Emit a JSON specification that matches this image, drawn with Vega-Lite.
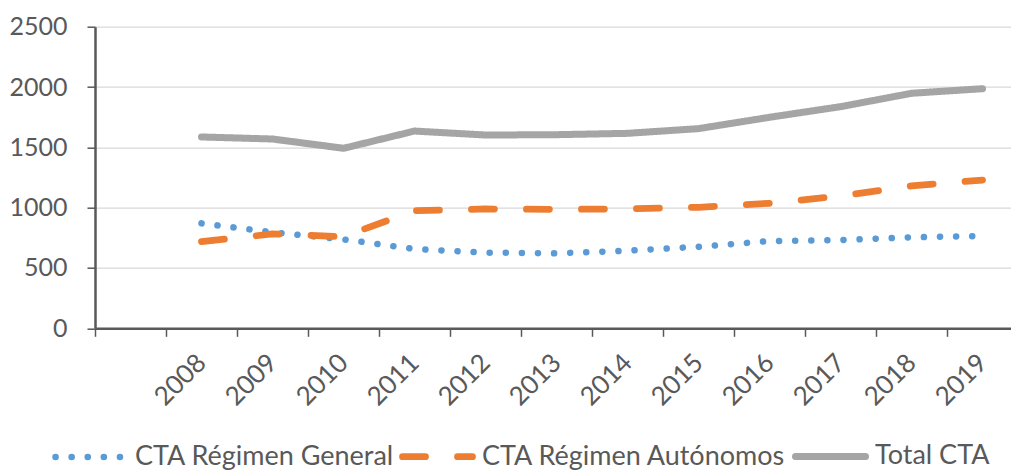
{
  "$schema": "https://vega.github.io/schema/vega-lite/v6.json",
  "width": 923,
  "height": 301.6,
  "autosize": "none",
  "padding": {"left": 95, "top": 26.7, "right": 0, "bottom": 142.7},
  "background": "white",
  "config": {
    "font": "Lato",
    "view": {"stroke": null},
    "axis": {"labelFont": "Lato", "labelFontSize": 25, "labelColor": "#595959", "domainColor": "#595959", "tickColor": "#595959"}
  },
  "data": {
    "values": [
      {"year": "2008", "series": "CTA Régimen General", "value": 870},
      {"year": "2009", "series": "CTA Régimen General", "value": 796},
      {"year": "2010", "series": "CTA Régimen General", "value": 737},
      {"year": "2011", "series": "CTA Régimen General", "value": 657},
      {"year": "2012", "series": "CTA Régimen General", "value": 627},
      {"year": "2013", "series": "CTA Régimen General", "value": 621},
      {"year": "2014", "series": "CTA Régimen General", "value": 643},
      {"year": "2015", "series": "CTA Régimen General", "value": 676},
      {"year": "2016", "series": "CTA Régimen General", "value": 723},
      {"year": "2017", "series": "CTA Régimen General", "value": 732},
      {"year": "2018", "series": "CTA Régimen General", "value": 754},
      {"year": "2019", "series": "CTA Régimen General", "value": 765},
      {"year": "2008", "series": "CTA Régimen Autónomos", "value": 718},
      {"year": "2009", "series": "CTA Régimen Autónomos", "value": 782},
      {"year": "2010", "series": "CTA Régimen Autónomos", "value": 760},
      {"year": "2011", "series": "CTA Régimen Autónomos", "value": 975},
      {"year": "2012", "series": "CTA Régimen Autónomos", "value": 989},
      {"year": "2013", "series": "CTA Régimen Autónomos", "value": 986},
      {"year": "2014", "series": "CTA Régimen Autónomos", "value": 990},
      {"year": "2015", "series": "CTA Régimen Autónomos", "value": 1003},
      {"year": "2016", "series": "CTA Régimen Autónomos", "value": 1036},
      {"year": "2017", "series": "CTA Régimen Autónomos", "value": 1097},
      {"year": "2018", "series": "CTA Régimen Autónomos", "value": 1180},
      {"year": "2019", "series": "CTA Régimen Autónomos", "value": 1229},
      {"year": "2008", "series": "Total CTA", "value": 1586},
      {"year": "2009", "series": "Total CTA", "value": 1569},
      {"year": "2010", "series": "Total CTA", "value": 1492},
      {"year": "2011", "series": "Total CTA", "value": 1635},
      {"year": "2012", "series": "Total CTA", "value": 1602},
      {"year": "2013", "series": "Total CTA", "value": 1605},
      {"year": "2014", "series": "Total CTA", "value": 1616},
      {"year": "2015", "series": "Total CTA", "value": 1655},
      {"year": "2016", "series": "Total CTA", "value": 1749},
      {"year": "2017", "series": "Total CTA", "value": 1837},
      {"year": "2018", "series": "Total CTA", "value": 1948},
      {"year": "2019", "series": "Total CTA", "value": 1986}
    ]
  },
  "mark": {"type": "line", "strokeCap": "round", "strokeJoin": "round"},
  "encoding": {
    "x": {
      "field": "year",
      "type": "nominal",
      "scale": {"type": "band", "domain": ["", "2008", "2009", "2010", "2011", "2012", "2013", "2014", "2015", "2016", "2017", "2018", "2019"], "paddingInner": 0, "paddingOuter": 0},
      "axis": {
        "title": null,
        "tickBand": "extent",
        "labelAngle": -45,
        "labelAlign": "right",
        "labelBaseline": "middle",
        "labelPadding": 22,
        "labelFontSize": 26,
        "tickSize": 8,
        "tickWidth": 1.5,
        "domainWidth": 2.5,
        "grid": false
      }
    },
    "y": {
      "field": "value",
      "type": "quantitative",
      "scale": {"domain": [0, 2500], "nice": false},
      "axis": {
        "title": null,
        "format": "d",
        "values": [0, 500, 1000, 1500, 2000, 2500],
        "tickSize": 8,
        "tickWidth": 1.5,
        "domainWidth": 2.5,
        "labelPadding": 20,
        "grid": true,
        "gridColor": "#D9D9D9",
        "gridWidth": 1.3
      }
    },
    "color": {
      "field": "series",
      "type": "nominal",
      "scale": {"domain": ["CTA Régimen General", "CTA Régimen Autónomos", "Total CTA"], "range": ["#5B9BD5", "#ED7D31", "#A5A5A5"]},
      "legend": {
        "title": null,
        "orient": "none",
        "direction": "horizontal",
        "legendX": -43,
        "legendY": 391,
        "padding": 0,
        "columnPadding": -6,
        "labelOffset": 6,
        "labelFont": "Lato",
        "labelFontSize": 27,
        "labelColor": "#595959",
        "symbolType": "stroke",
        "symbolSize": 4900,
        "labelLimit": 400,
        "encoding": {"symbols": {"strokeCap": {"value": "round"}}}
      }
    },
    "strokeDash": {
      "field": "series",
      "type": "nominal",
      "scale": {"domain": ["CTA Régimen General", "CTA Régimen Autónomos", "Total CTA"], "range": [[0.1, 16], [23, 32], [1, 0]]},
      "legend": null
    },
    "strokeWidth": {
      "field": "series",
      "type": "nominal",
      "scale": {"domain": ["CTA Régimen General", "CTA Régimen Autónomos", "Total CTA"], "range": [6.5, 7, 7.5]},
      "legend": null
    }
  }
}
